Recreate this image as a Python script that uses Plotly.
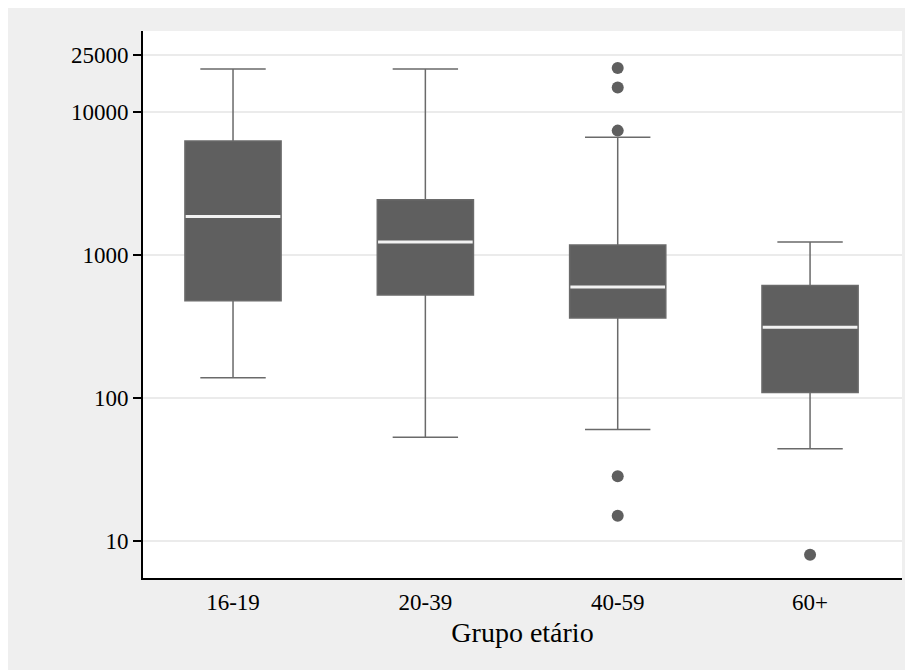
import plotly.graph_objects as go

# ---- data ----
groups = ["16-19", "20-39", "40-59", "60+"]
lower_whisker = [138, 53, 60, 44]
q1 = [477, 525, 362, 109]
median = [1855, 1233, 597, 312]
q3 = [6270, 2427, 1175, 610]
upper_whisker = [20000, 20000, 6650, 1233]
outliers = {
    "40-59": [20300, 14800, 7400, 28.3, 15.0],
    "60+": [8.0],
}
y_ticks = [10, 100, 1000, 10000, 25000]

BOX_W = 0.5
FONT = "Liberation Serif, Times New Roman, serif"
box_fill = "#5f5f5f"
line_gray = "#6a6a6a"

fig = go.Figure()
xs = list(range(len(groups)))

for i, g in enumerate(groups):
    fig.add_trace(go.Box(
        x=[i], q1=[q1[i]], median=[median[i]], q3=[q3[i]],
        lowerfence=[lower_whisker[i]], upperfence=[upper_whisker[i]],
        width=BOX_W, whiskerwidth=0.68,
        fillcolor=box_fill, line=dict(color=line_gray, width=1.5),
        boxpoints=False, showlegend=False, hoverinfo="skip",
    ))

# white median lines
mx, my = [], []
for i in xs:
    mx += [i - BOX_W / 2 + 0.004, i + BOX_W / 2 - 0.004, None]
    my += [median[i], median[i], None]
fig.add_trace(go.Scatter(x=mx, y=my, mode="lines",
                         line=dict(color="#f2f2f2", width=3),
                         showlegend=False, hoverinfo="skip"))

# outliers
ox, oy = [], []
for g, vals in outliers.items():
    i = groups.index(g)
    ox += [i] * len(vals)
    oy += vals
fig.add_trace(go.Scatter(x=ox, y=oy, mode="markers",
                         marker=dict(color=box_fill, size=12),
                         showlegend=False, hoverinfo="skip"))

fig.update_layout(
    width=913, height=670,
    margin=dict(l=135, r=19, t=23, b=100),
    paper_bgcolor="#efefef", plot_bgcolor="white",
    font=dict(family=FONT, size=23, color="black"),
    xaxis=dict(
        range=[-0.468, 3.478], tickvals=xs, ticktext=groups,
        showgrid=False, zeroline=False,
        showline=True, linecolor="black", linewidth=2,
        ticks="outside", ticklen=2, tickcolor="rgba(0,0,0,0)",
        title=dict(text="Grupo etário", font=dict(size=28), standoff=9),
        tickfont=dict(size=23),
    ),
    yaxis=dict(
        type="log", range=[0.740, 4.566],
        tickvals=y_ticks, ticktext=[str(v) for v in y_ticks],
        showgrid=True, gridcolor="#ebebeb", gridwidth=1.5,
        zeroline=False,
        showline=True, linecolor="black", linewidth=2,
        ticks="outside", ticklen=8, tickcolor="black", tickwidth=1.5,
        tickfont=dict(size=23),
    ),
)

fig.write_html("out.html")
